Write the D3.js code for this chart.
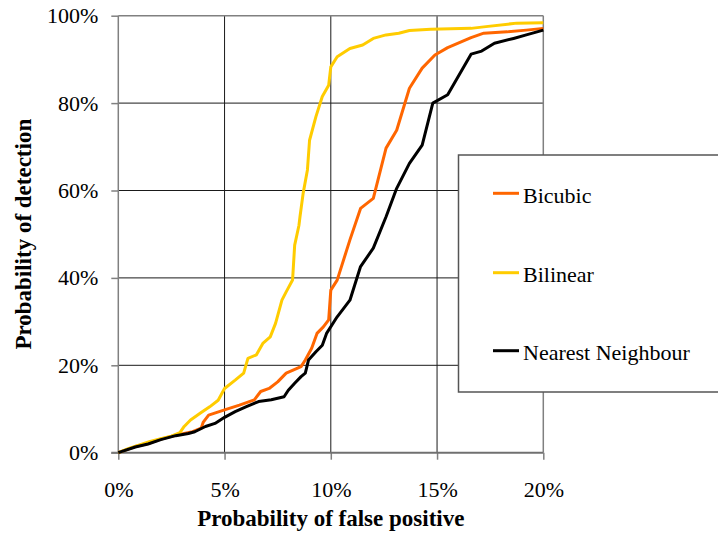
<!DOCTYPE html>
<html>
<head>
<meta charset="utf-8">
<script src="https://cdn.jsdelivr.net/npm/d3@7"></script>
<style>
  body { margin: 0; background: #fff; }
  text { font-family: "Liberation Serif", "Times New Roman", serif; }
</style>
</head>
<body>
<div id="chart_roc"></div>
<script>
//****************************************************************************
//Data - [false positive %, detection %]

const seriesNames = ["Bicubic", "Bilinear", "Nearest Neighbour"]
const seriesColors = ["#FF6600", "#FFCC00", "#000000"]

const bicubic = [[0,0],[0.8,1.4],[1.4,2.1],[2.0,3.1],[2.7,4.0],[3.5,4.8],[3.9,5.6],[4.0,7.0],[4.25,8.6],
  [5.0,9.8],[5.7,10.9],[6.4,12.1],[6.7,14],[7.1,14.7],[7.5,16.2],[7.9,18.2],[8.6,19.7],[8.8,21.2],
  [9.1,23.9],[9.35,27.3],[9.65,28.8],[9.9,30.4],[10.0,37.2],[10.3,39.5],[10.9,48.7],[11.4,55.9],
  [12.0,58.2],[12.6,69.7],[13.1,73.8],[13.7,83.4],[14.3,88],[14.9,91],[15.5,92.7],[16.6,95],
  [17.2,96],[18.3,96.3],[19.2,96.7],[20,97.1]]

const bilinear = [[0,0],[0.5,1.0],[1.0,1.8],[1.5,2.6],[2.0,3.2],[2.5,3.8],[2.9,4.6],[3.1,6.0],[3.4,7.5],
  [3.9,9.2],[4.3,10.5],[4.7,12],[5.0,14.7],[5.5,16.6],[5.9,18.2],[6.1,21.6],[6.5,22.4],[6.8,25],
  [7.15,26.5],[7.4,29.6],[7.7,34.9],[7.9,36.8],[8.2,39.5],[8.3,47.5],[8.5,52],[8.55,54],[8.7,59.4],
  [8.9,64.7],[9.0,71.5],[9.3,76.9],[9.6,81.5],[9.9,84.1],[10.0,88.3],[10.3,90.6],[10.9,92.5],
  [11.5,93.3],[12.0,94.8],[12.6,95.6],[13.2,96],[13.7,96.6],[14.7,96.9],[16.6,97.1],[17.3,97.5],
  [18.75,98.3],[20,98.4]]

const nearest = [[0,0],[0.8,1.3],[1.4,2.0],[2.0,3.0],[2.7,3.9],[3.3,4.4],[3.6,4.8],[4.1,6.0],[4.55,6.7],
  [5.0,8.1],[5.5,9.4],[6.0,10.5],[6.6,11.7],[7.2,12.1],[7.8,12.8],[8.0,14.3],[8.3,15.9],[8.6,17.4],
  [8.8,18.2],[8.95,21.2],[9.3,23.1],[9.6,24.6],[9.8,27.3],[10.3,31.1],[10.9,34.9],[11.4,42.6],
  [12.0,46.8],[12.6,54],[13.1,60.5],[13.7,66.2],[14.3,70.4],[14.8,80],[15.5,81.9],[16.6,91.2],
  [17.1,91.9],[17.7,93.7],[18.6,94.8],[19.2,95.6],[20,96.7]]

const xTicks = [0, 5, 10, 15, 20]
const yTicks = [0, 20, 40, 60, 80, 100]

//****************************************************************************
//svg and plot area

const canvWidth = 718
const canvHeight = 533
const plot = {left: 118.3, right: 543.3, top: 15.7, bottom: 452.7}

const svg = d3.select("#chart_roc").append("svg")
  .attr("width", canvWidth)
  .attr("height", canvHeight)

const xScale = d3.scaleLinear().domain([0, 20]).range([plot.left, plot.right])
const yScale = d3.scaleLinear().domain([0, 100]).range([plot.bottom, plot.top])

//****************************************************************************
//grid

const gGrid = svg.append("g").attr("id", "grid")

gGrid.selectAll("line.vgrid")
  .data(xTicks.filter(d => d > 0 && d < 20))
  .enter().append("line")
  .attr("class", "vgrid")
  .attr("x1", d => xScale(d)).attr("x2", d => xScale(d))
  .attr("y1", plot.top).attr("y2", plot.bottom)
  .style("stroke", "#1a1a1a").style("stroke-width", 1)

gGrid.selectAll("line.hgrid")
  .data(yTicks.filter(d => d > 0 && d < 100))
  .enter().append("line")
  .attr("class", "hgrid")
  .attr("x1", plot.left).attr("x2", plot.right)
  .attr("y1", d => yScale(d)).attr("y2", d => yScale(d))
  .style("stroke", "#1a1a1a").style("stroke-width", 1)

//plot border (top / right)
gGrid.append("line")
  .attr("x1", plot.left).attr("x2", plot.right).attr("y1", plot.top).attr("y2", plot.top)
  .style("stroke", "#808080").style("stroke-width", 1.5)
gGrid.append("line")
  .attr("x1", plot.right).attr("x2", plot.right).attr("y1", plot.top).attr("y2", plot.bottom)
  .style("stroke", "#808080").style("stroke-width", 1.5)

//****************************************************************************
//axes

const xAxis = d3.axisBottom(xScale).tickValues(xTicks).tickSize(7).tickPadding(22).tickFormat(d => d + "%")
const gX = svg.append("g")
  .attr("id", "x-axis")
  .attr("transform", `translate(0,${plot.bottom})`)
  .call(xAxis)

const yAxis = d3.axisLeft(yScale).tickValues(yTicks).tickSize(7).tickPadding(13).tickFormat(d => d + "%")
const gY = svg.append("g")
  .attr("id", "y-axis")
  .attr("transform", `translate(${plot.left},0)`)
  .call(yAxis)

svg.selectAll("#x-axis path, #y-axis path").remove()
svg.selectAll("#x-axis line, #y-axis line").style("stroke", "#808080").style("stroke-width", 1.5)
svg.selectAll("#x-axis text, #y-axis text")
  .style("font-family", "'Liberation Serif', serif")
  .style("font-size", "22px")
  .style("fill", "#000")
gX.selectAll("text").attr("dy", "0.71em")

//axis lines drawn by hand so the left tick of 0% joins the base line
gY.append("line")
  .attr("x1", 0).attr("x2", 0).attr("y1", plot.top).attr("y2", plot.bottom)
  .style("stroke", "#808080").style("stroke-width", 1.5)
gX.append("line")
  .attr("x1", plot.left - 7).attr("x2", plot.right).attr("y1", 0).attr("y2", 0)
  .style("stroke", "#707070").style("stroke-width", 2)

//****************************************************************************
//curves

const lineGen = d3.line()
  .x(d => xScale(d[0]))
  .y(d => yScale(d[1]))

const allSeries = [bicubic, bilinear, nearest]

svg.append("g").attr("id", "curves")
  .selectAll("path")
  .data(allSeries)
  .enter().append("path")
  .attr("d", d => lineGen(d))
  .style("fill", "none")
  .style("stroke", (d, i) => seriesColors[i])
  .style("stroke-width", 3)
  .style("stroke-linejoin", "round")

//****************************************************************************
//titles

svg.append("text")
  .attr("x", (plot.left + plot.right) / 2)
  .attr("y", 526)
  .style("text-anchor", "middle")
  .style("font-weight", "bold")
  .style("font-size", "23px")
  .text("Probability of false positive")

svg.append("text")
  .attr("transform", `translate(31,${(plot.top + plot.bottom) / 2}) rotate(-90)`)
  .style("text-anchor", "middle")
  .style("font-weight", "bold")
  .style("font-size", "23px")
  .text("Probability of detection")

//****************************************************************************
//legend

const gLegend = svg.append("g").attr("id", "legend")

gLegend.append("rect")
  .attr("x", 458.5).attr("y", 155)
  .attr("width", 270).attr("height", 237)
  .style("fill", "#fff")
  .style("stroke", "#555")
  .style("stroke-width", 1.5)

const legendRows = [193.3, 272.7, 350.7]

const items = gLegend.selectAll("g.item")
  .data(seriesNames)
  .enter().append("g")
  .attr("class", "item")
  .attr("transform", (d, i) => `translate(493,${legendRows[i]})`)

items.append("line")
  .attr("x1", 0).attr("x2", 26).attr("y1", 0).attr("y2", 0)
  .style("stroke", (d, i) => seriesColors[i])
  .style("stroke-width", 3)

items.append("text")
  .attr("x", 30).attr("y", 9.7)
  .style("font-size", "22px")
  .text(d => d)
</script>
</body>
</html>
